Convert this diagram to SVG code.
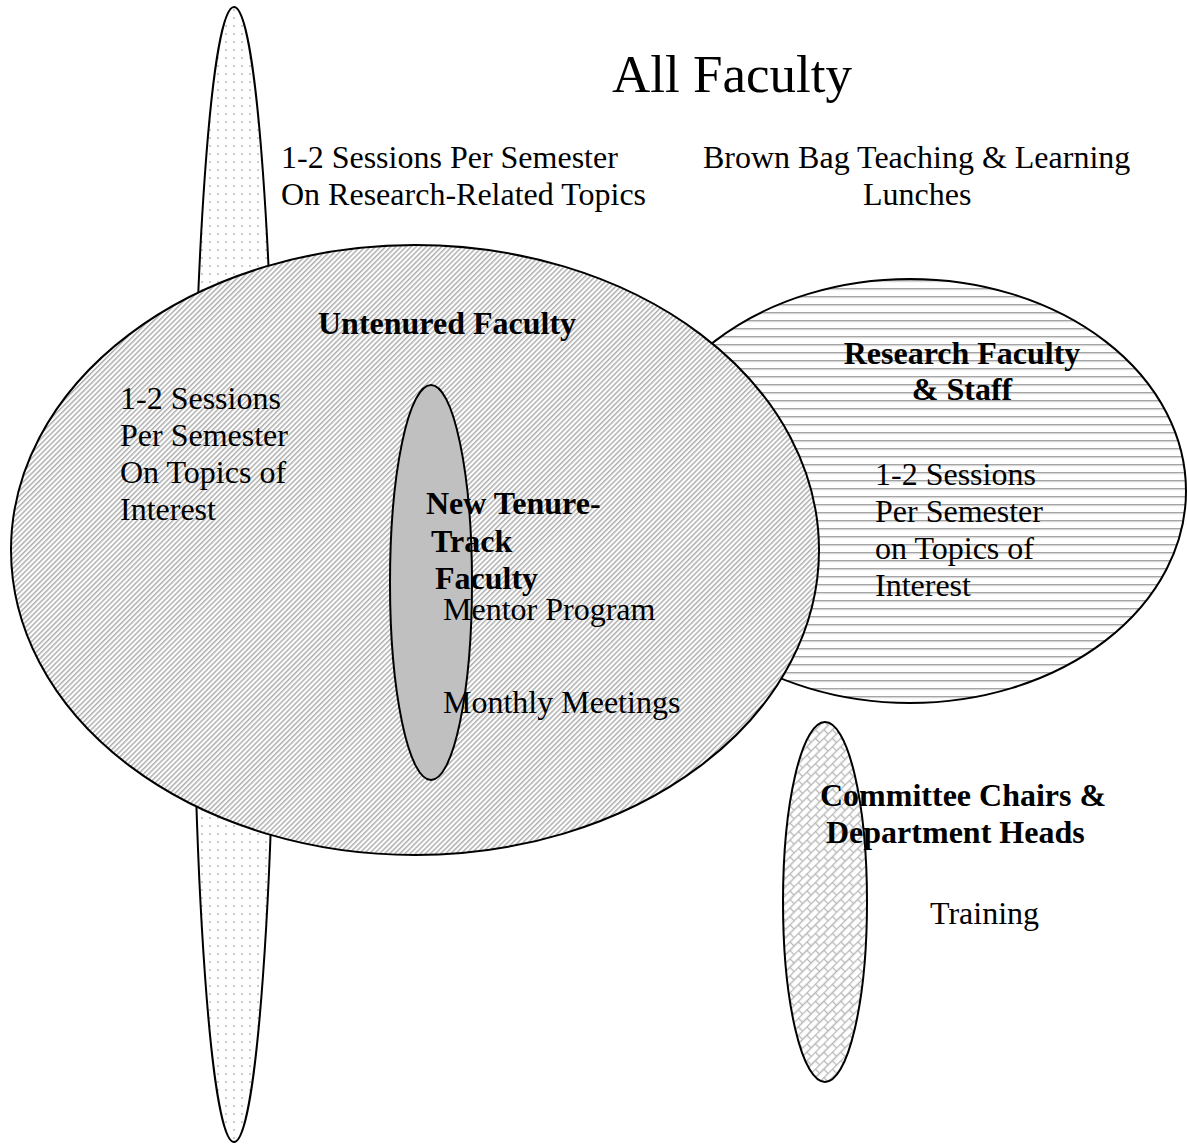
<svg xmlns="http://www.w3.org/2000/svg" width="1187" height="1144" viewBox="0 0 1187 1144">
  <style>
    .shape { stroke: #000; stroke-width: 2; }
    .t { font-family: "Liberation Serif", "Times New Roman", serif; font-size: 32px; fill: #000; }
    .b { font-weight: bold; }
    .title { font-size: 53px; }
  </style>
  <defs>
    <!-- light dotted fill -->
    <pattern id="dots" width="8" height="8" patternUnits="userSpaceOnUse">
      <rect width="8" height="8" fill="#fff"/>
      <circle cx="2" cy="2" r="0.9" fill="#b4b4b4"/>
    </pattern>
    <!-- fine upward diagonal stripes -->
    <pattern id="diag" width="3.6" height="10" patternUnits="userSpaceOnUse" patternTransform="rotate(45)">
      <rect width="3.6" height="10" fill="#fff"/>
      <rect x="0" y="0" width="1.5" height="10" fill="#b0b0b0"/>
    </pattern>
    <!-- horizontal stripes -->
    <pattern id="horiz" width="10" height="8" patternUnits="userSpaceOnUse">
      <rect width="10" height="8" fill="#fff"/>
      <rect x="0" y="0" width="10" height="1.2" fill="#a4a4a4"/>
      <rect x="0" y="1.2" width="10" height="1" fill="#d4d4d4"/>
    </pattern>
    <!-- diagonal brick weave -->
    <pattern id="brick" width="12" height="12" patternUnits="userSpaceOnUse" patternTransform="rotate(-45)">
      <rect width="12" height="12" fill="#fff"/>
      <path d="M0 0.5 H12 M0 6.5 H12 M0.5 0.5 V6.5 M6.5 6.5 V12.5" stroke="#b8b8b8" stroke-width="1.3" fill="none"/>
    </pattern>
  </defs>

  <rect width="1187" height="1144" fill="#fff"/>

  <g id="research-sessions">
    <ellipse class="shape" cx="234" cy="574.5" rx="41" ry="567.5" fill="url(#dots)"/>
  </g>

  <g id="research-faculty">
    <ellipse class="shape" cx="910" cy="491" rx="276" ry="212" fill="url(#horiz)"/>
  </g>

  <g id="untenured-faculty">
    <ellipse class="shape" cx="415" cy="550" rx="404" ry="305" fill="url(#diag)"/>
  </g>

  <g id="new-tenure-track">
    <ellipse class="shape" cx="431" cy="582.5" rx="41" ry="197.5" fill="#c0c0c0"/>
  </g>

  <g id="committee-chairs">
    <ellipse class="shape" cx="825" cy="902" rx="42" ry="180" fill="url(#brick)"/>
  </g>

  <g id="connectors"></g>

  <g id="labels">
    <text class="t title" x="612" y="92">All Faculty</text>

    <text class="t" x="281" y="168">1-2 Sessions Per Semester</text>
    <text class="t" x="281" y="205">On Research-Related Topics</text>

    <text class="t" x="703" y="168">Brown Bag Teaching &amp; Learning</text>
    <text class="t" x="863" y="205">Lunches</text>

    <text class="t b" x="318" y="334">Untenured Faculty</text>

    <text class="t" x="120" y="409">1-2 Sessions</text>
    <text class="t" x="120" y="446">Per Semester</text>
    <text class="t" x="120" y="483">On Topics of</text>
    <text class="t" x="120" y="520">Interest</text>

    <text class="t b" x="426" y="514">New Tenure-</text>
    <text class="t b" x="431" y="552">Track</text>
    <text class="t b" x="435" y="589">Faculty</text>
    <text class="t" x="443" y="620">Mentor Program</text>
    <text class="t" x="443" y="713">Monthly Meetings</text>

    <text class="t b" x="962" y="364" text-anchor="middle">Research Faculty</text>
    <text class="t b" x="962" y="400" text-anchor="middle">&amp; Staff</text>

    <text class="t" x="875" y="485">1-2 Sessions</text>
    <text class="t" x="875" y="522">Per Semester</text>
    <text class="t" x="875" y="559">on Topics of</text>
    <text class="t" x="875" y="596">Interest</text>

    <text class="t b" x="820" y="806">Committee Chairs &amp;</text>
    <text class="t b" x="826" y="843">Department Heads</text>
    <text class="t" x="930" y="924">Training</text>
  </g>
</svg>
